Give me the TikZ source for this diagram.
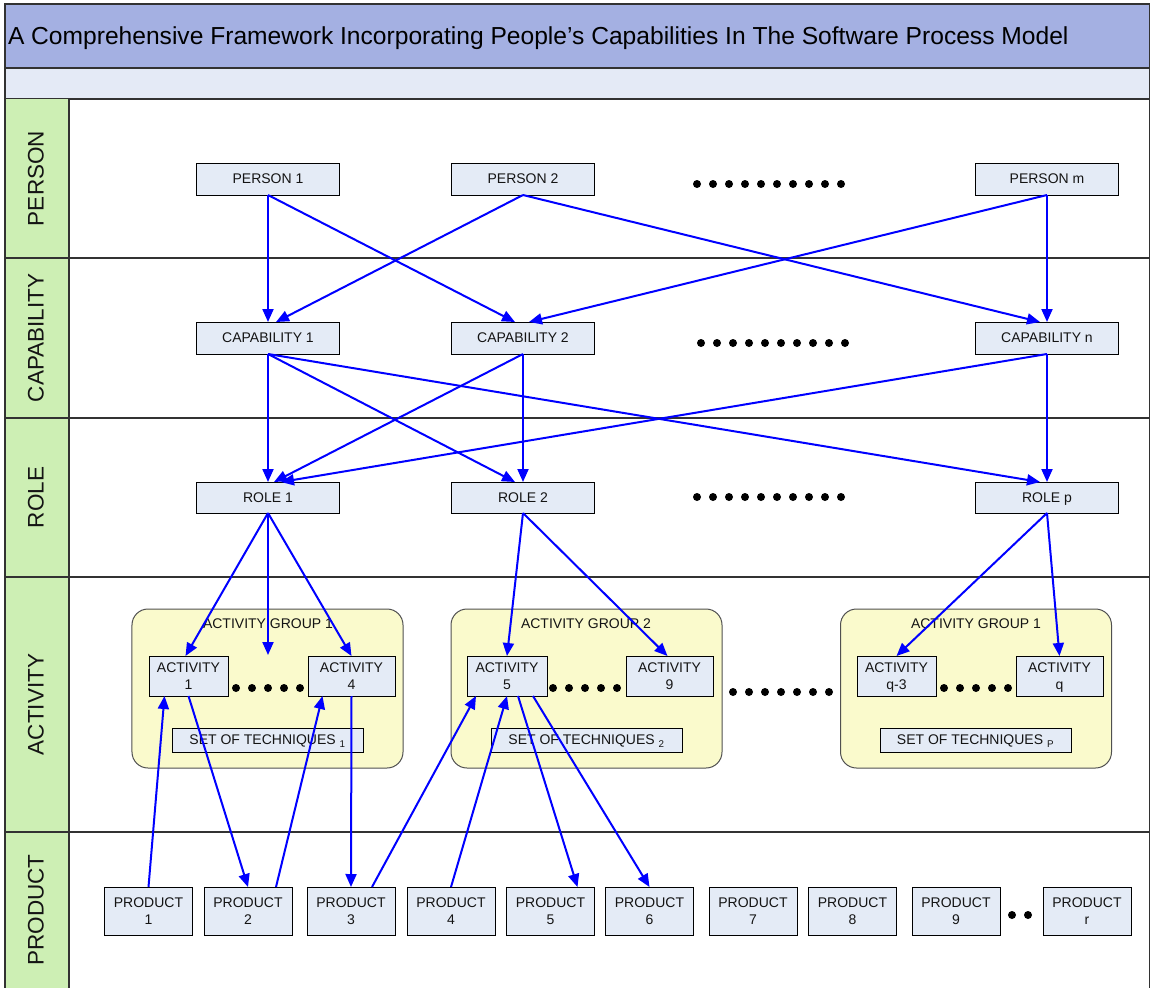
\documentclass[tikz,border=0pt]{standalone}
\usepackage{fontspec}
\setmainfont{Liberation Sans}
\usetikzlibrary{arrows.meta}

\definecolor{titleband}{RGB}{164,176,226}
\definecolor{subband}{RGB}{228,234,246}
\definecolor{lanegreen}{RGB}{205,239,180}
\definecolor{boxfill}{RGB}{228,235,246}
\definecolor{groupfill}{RGB}{250,250,204}
\definecolor{groupedge}{RGB}{80,80,80}
\definecolor{framegray}{RGB}{50,50,50}
\definecolor{linkblue}{RGB}{0,0,255}
\definecolor{textgray}{RGB}{20,20,20}

\begin{document}
\begin{tikzpicture}[x=1bp,y=-1bp,
  every node/.style={inner sep=0pt, outer sep=0pt},
  frameline/.style={draw=framegray, line width=1.3bp},
  box/.style={draw=black, line width=0.8bp, fill=boxfill, align=center,
    text=textgray, text depth=0bp, font=\fontsize{14bp}{17bp}\selectfont},
  widebox/.style={box, minimum width=143bp, minimum height=32bp},
  actbox/.style={box, minimum height=40bp},
  techbox/.style={box, minimum width=191bp, minimum height=24bp},
  prodbox/.style={box, minimum width=88bp, minimum height=48bp},
  groupbox/.style={draw=groupedge, line width=1bp, fill=groupfill,
    rounded corners=16bp, minimum width=271bp, minimum height=159bp},
  grouplabel/.style={text=textgray, font=\fontsize{14bp}{17bp}\selectfont},
  lanelabel/.style={rotate=90, text=textgray, font=\fontsize{22.5bp}{26bp}\selectfont},
  link/.style={draw=linkblue, line width=2bp, -{Triangle[length=13bp,width=11bp]}},
]
\useasboundingbox (0,0) rectangle (1150,988);

% ---------- frame, title and swimlanes ----------
\fill[white] (0,0) rectangle (1150,988);
\draw[frameline, fill=titleband] (5,4) rectangle (1149.4,68);
\draw[frameline, fill=subband] (5,68) rectangle (1149.4,99);
\fill[lanegreen] (5,99) rectangle (69,988);
\draw[frameline] (5,99) -- (5,988);
\draw[frameline] (69,99) -- (69,988);
\draw[frameline] (1149.4,99) -- (1149.4,988);
\foreach \yy in {258,418,577,832}
  \draw[frameline] (5,\yy) -- (1149.4,\yy);

\node[anchor=base west, text=black, font=\fontsize{24.6bp}{28bp}\selectfont] (title) at (8,44)
  {A Comprehensive Framework Incorporating People’s Capabilities In The Software Process Model};

\node[lanelabel] (lnperson) at (36,178.5) {PERSON};
\node[lanelabel] (lncap)    at (36,338)   {CAPABILITY};
\node[lanelabel] (lnrole)   at (36,497.5) {ROLE};
\node[lanelabel] (lnact)    at (36,704.5) {ACTIVITY};
\node[lanelabel] (lnprod)   at (36,910)   {PRODUCT};

% ---------- persons ----------
\node[widebox] (p1) at (268,179) {PERSON 1};
\node[widebox] (p2) at (523,179) {PERSON 2};
\node[widebox] (pm) at (1047,179)  {PERSON m};
\foreach \i in {0,...,9} \fill (697+16*\i,184) circle (4);

% ---------- capabilities ----------
\node[widebox] (cap1) at (268,338) {CAPABILITY 1};
\node[widebox] (cap2) at (523,338) {CAPABILITY 2};
\node[widebox] (capn) at (1047,338)  {CAPABILITY n};
\foreach \i in {0,...,9} \fill (701+16*\i,343) circle (4);

% ---------- roles ----------
\node[widebox, minimum height=31bp] (role1) at (268,497.5) {ROLE 1};
\node[widebox, minimum height=31bp] (role2) at (523,497.5) {ROLE 2};
\node[widebox, minimum height=31bp] (rolep) at (1047,497.5)  {ROLE p};
\foreach \i in {0,...,9} \fill (697+16*\i,497) circle (4);

% ---------- activity groups ----------
\node[groupbox] (grp1) at (267.5,688.5) {};
\node[groupbox] (grp2) at (586.5,688.5) {};
\node[groupbox] (grp3) at (976,688.5) {};
\node[grouplabel] (grp1lbl) at (268,624) {ACTIVITY GROUP 1};
\node[grouplabel] (grp2lbl) at (586,624) {ACTIVITY GROUP 2};
\node[grouplabel] (grp3lbl) at (976,624) {ACTIVITY GROUP 1};

\node[actbox, minimum width=79bp] (act1)  at (188.5,676)  {ACTIVITY\\1};
\node[actbox, minimum width=87bp] (act4)  at (351.5,676)  {ACTIVITY\\4};
\node[actbox, minimum width=80bp] (act5)  at (507,676)    {ACTIVITY\\5};
\node[actbox, minimum width=87bp] (act9)  at (669.5,676)  {ACTIVITY\\9};
\node[actbox, minimum width=79bp] (actq3) at (896.5,676)  {ACTIVITY\\q-3};
\node[actbox, minimum width=87bp] (actq)  at (1059.5,676) {ACTIVITY\\q};

\node[techbox] (tech1) at (267.5,740) {SET OF TECHNIQUES \textsubscript{1}};
\node[techbox] (tech2) at (586.5,740) {SET OF TECHNIQUES \textsubscript{2}};
\node[techbox] (tech3) at (975.5,740) {SET OF TECHNIQUES \textsubscript{P}};

\foreach \i in {0,...,4} {
  \fill (236+16*\i,688) circle (4);
  \fill (553+16*\i,688) circle (4);
  \fill (944+16*\i,688) circle (4);
}
\foreach \i in {0,...,6} \fill (733+16*\i,692) circle (4);

\coordinate (g1gap) at (268,655);

% ---------- products ----------
\node[prodbox] (pr1) at (148.5,911) {PRODUCT\\1};
\node[prodbox] (pr2) at (248,911)   {PRODUCT\\2};
\node[prodbox] (pr3) at (351,911)   {PRODUCT\\3};
\node[prodbox] (pr4) at (451,911)   {PRODUCT\\4};
\node[prodbox] (pr5) at (550.5,911) {PRODUCT\\5};
\node[prodbox] (pr6) at (649.5,911) {PRODUCT\\6};
\node[prodbox] (pr7) at (753,911)   {PRODUCT\\7};
\node[prodbox] (pr8) at (852.5,911) {PRODUCT\\8};
\node[prodbox] (pr9) at (956,911)   {PRODUCT\\9};
\node[prodbox] (prr) at (1087,911)  {PRODUCT\\r};
\fill (1012,915) circle (4);
\fill (1028,915) circle (4);

% ---------- connectors ----------
% person -> capability
\draw[link] (p1.south) -- (cap1.north);
\draw[link] (p1.south) -- ([xshift=-8bp]cap2.north);
\draw[link] (p2.south) -- ([xshift=8bp]cap1.north);
\draw[link] (p2.south) -- ([xshift=-7bp]capn.north);
\draw[link] (pm.south) -- ([xshift=6bp]cap2.north);
\draw[link] (pm.south) -- (capn.north);

% capability -> role
\draw[link] (cap1.south) -- (role1.north);
\draw[link] (cap1.south) -- ([xshift=-8bp]role2.north);
\draw[link] (cap1.south) -- ([xshift=-7bp]rolep.north);
\draw[link] (cap2.south) -- ([xshift=6bp]role1.north);
\draw[link] (cap2.south) -- (role2.north);
\draw[link] (capn.south) -- ([xshift=13bp]role1.north);
\draw[link] (capn.south) -- (rolep.north);

% role -> activity
\draw[link] (role1.south) -- ([xshift=-3bp]act1.north);
\draw[link] (role1.south) -- (g1gap);
\draw[link] (role1.south) -- (act4.north);
\draw[link] (role2.south) -- (act5.north);
\draw[link] (role2.south) -- ([xshift=-2bp]act9.north);
\draw[link] (rolep.south) -- (actq3.north);
\draw[link] (rolep.south) -- (actq.north);

% activity <-> product
\draw[link] (pr1.north) -- ([xshift=-24bp]act1.south);
\draw[link] (act1.south) -- (pr2.north);
\draw[link] ([xshift=28bp]pr2.north) -- ([xshift=-29bp]act4.south);
\draw[link] (act4.south) -- (pr3.north);
\draw[link] ([xshift=21bp]pr3.north) -- ([xshift=-31bp]act5.south);
\draw[link] (pr4.north) -- (act5.south);
\draw[link] ([xshift=11bp]act5.south) -- ([xshift=27bp]pr5.north);
\draw[link] ([xshift=26bp]act5.south) -- (pr6.north);
\end{tikzpicture}
\end{document}
